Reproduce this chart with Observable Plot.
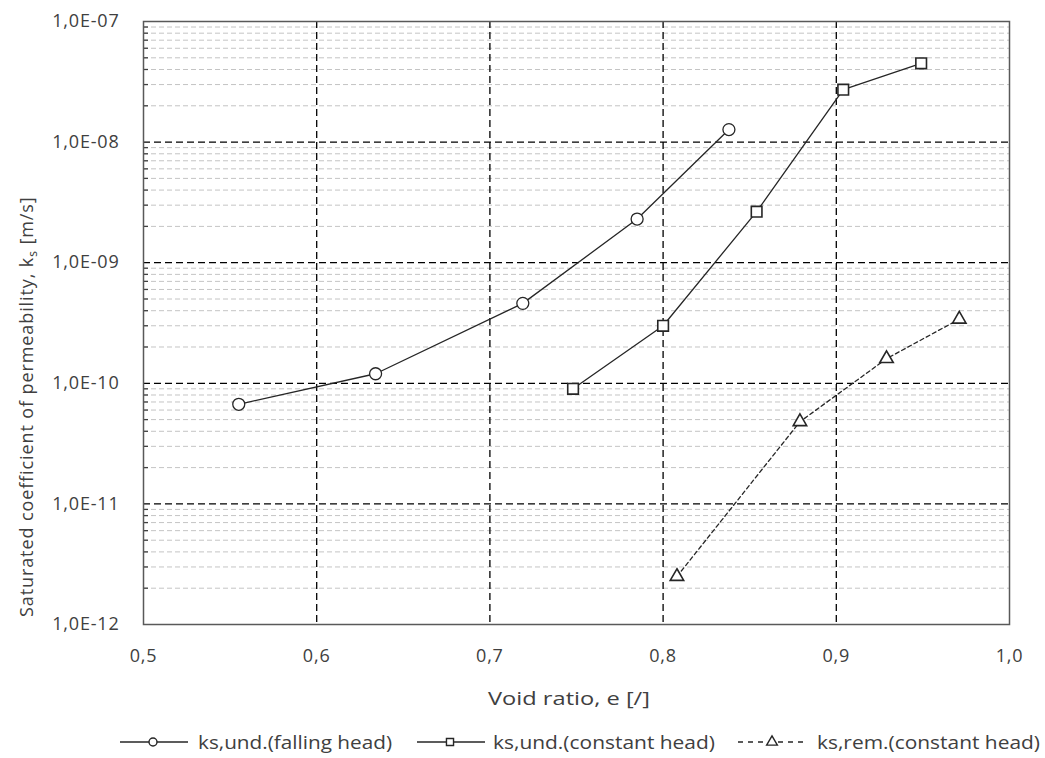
<!DOCTYPE html>
<html><head><meta charset="utf-8">
<script src="https://cdn.jsdelivr.net/npm/d3@7"></script>
<script src="https://cdn.jsdelivr.net/npm/@observablehq/plot@0.6"></script>
<style>
body{margin:0;background:#fff;font-family:"Open Sans",Lato,sans-serif;color:#404040;}
#wrap{width:1045px;height:758px;}
#chart svg, #legend svg{display:block;}
</style></head><body>
<div id="wrap"><div id="chart"></div><div id="legend"></div></div>
<script>
// Data
const voidFalling = [0.555, 0.634, 0.719, 0.785, 0.838];
const ksFalling   = [6.7e-11, 1.2e-10, 4.6e-10, 2.3e-9, 1.27e-8];
const voidConst   = [0.748, 0.800, 0.854, 0.904, 0.949];
const ksConst     = [9.0e-11, 3.0e-10, 2.65e-9, 2.72e-8, 4.5e-8];
const voidRem     = [0.808, 0.879, 0.929, 0.971];
const ksRem       = [2.5e-12, 4.8e-11, 1.6e-10, 3.4e-10];
const xTicks = [0.5, 0.6, 0.7, 0.8, 0.9, 1.0];
const yTicks = [1e-12, 1e-11, 1e-10, 1e-9, 1e-8, 1e-7];
const seriesNames = ["ks,und.(falling head)", "ks,und.(constant head)", "ks,rem.(constant head)"];

const minor = [];
for (let k = -12; k < -7; k++) for (let m = 2; m <= 9; m++) minor.push(+(m + "e" + k));

const falling = voidFalling.map((e, i) => ({e, k: ksFalling[i]}));
const constant = voidConst.map((e, i) => ({e, k: ksConst[i]}));
const remold = voidRem.map((e, i) => ({e, k: ksRem[i]}));

const yFmt = d => "1,0E-" + String(Math.round(-Math.log10(d))).padStart(2, "0");
const xFmt = d => d.toFixed(1).replace(".", ",");
const ink = "#262626";
const font = "'Open Sans', Lato, sans-serif";

const chart = Plot.plot({
  width: 1045, height: 725,
  marginTop: 21, marginBottom: 101, marginLeft: 143, marginRight: 36,
  style: {fontFamily: font, fontSize: "18px", color: "#404040", background: "#fff", letterSpacing: "0.8px"},
  x: {domain: [0.5, 1.0], label: null},
  y: {type: "log", domain: [1e-12, 1e-7], label: null},
  marks: [
    Plot.ruleY(minor, {stroke: "#c4c4c4", strokeWidth: 1, strokeDasharray: "5,3"}),
    Plot.ruleY(yTicks.slice(1, -1), {stroke: "#000", strokeWidth: 1.3, strokeDasharray: "7,4"}),
    Plot.ruleX(xTicks.slice(1, -1), {stroke: "#000", strokeWidth: 1.3, strokeDasharray: "7,4"}),
    Plot.axisY({ticks: minor, tickSize: 5, dx: 5, tickFormat: () => "", stroke: "#404040", strokeWidth: 1.3, label: null}),
    Plot.axisY({ticks: yTicks, tickSize: 0, tickPadding: 24, tickFormat: yFmt, label: null}),
    Plot.axisX({ticks: xTicks, tickSize: 0, tickPadding: 25, tickFormat: xFmt, label: null}),
    Plot.line(falling, {x: "e", y: "k", stroke: ink, strokeWidth: 1.3}),
    Plot.line(constant, {x: "e", y: "k", stroke: ink, strokeWidth: 1.3}),
    Plot.line(remold, {x: "e", y: "k", stroke: ink, strokeWidth: 1.3, strokeDasharray: "4,3"}),
    Plot.dot(falling, {x: "e", y: "k", symbol: "circle", r: 6, fill: "#fff", stroke: ink, strokeWidth: 1.3}),
    Plot.dot(constant, {x: "e", y: "k", symbol: "square", r: 6, fill: "#fff", stroke: ink, strokeWidth: 1.6}),
    Plot.dot(remold, {x: "e", y: "k", symbol: "triangle", r: 5, fill: "#fff", stroke: ink, strokeWidth: 1.6}),
    Plot.frame({stroke: "#595959", strokeWidth: 1.5})
  ]
});
document.getElementById("chart").appendChild(chart);

const svg = d3.select(chart);
svg.append("text")
  .attr("x", 488).attr("y", 705).attr("text-anchor", "start")
  .attr("textLength", 162).attr("lengthAdjust", "spacingAndGlyphs")
  .attr("font-size", 18).attr("fill", "#404040").style("letter-spacing", "0px")
  .text("Void ratio, e [/]");
const yt = svg.append("text")
  .attr("transform", "translate(33,617) rotate(-90)").attr("text-anchor", "start")
  .attr("font-size", 18).attr("fill", "#404040").style("letter-spacing", "0.9px");
yt.append("tspan").text("Saturated coefficient of permeability, k");
yt.append("tspan").attr("font-size", 12).attr("dy", 4).text("s");
yt.append("tspan").attr("dy", -4).text(" [m/s]");

// Legend (below the chart SVG)
const legendItems = [
  {name: seriesNames[0], x1: 120, x2: 188, mx: 153, tx: 198, tl: 194, sym: d3.symbolCircle, dash: null},
  {name: seriesNames[1], x1: 417, x2: 485, mx: 450, tx: 493, tl: 222, sym: d3.symbolSquare, dash: null},
  {name: seriesNames[2], x1: 738, x2: 803, mx: 772, tx: 817, tl: 223, sym: d3.symbolTriangle, dash: "5,5"}
];
const lg = d3.select("#legend").append("svg").attr("width", 1045).attr("height", 33)
  .style("font-family", font);
legendItems.forEach(it => {
  lg.append("line").attr("x1", it.x1).attr("x2", it.x2).attr("y1", 17).attr("y2", 17)
    .attr("stroke", ink).attr("stroke-width", 1.5).attr("stroke-dasharray", it.dash);
  lg.append("path").attr("d", d3.symbol(it.sym, 50)()).attr("transform", `translate(${it.mx},17)`)
    .attr("fill", "#fff").attr("stroke", ink).attr("stroke-width", 1.4);
  lg.append("text").attr("x", it.tx).attr("y", 24).attr("textLength", it.tl)
    .attr("lengthAdjust", "spacingAndGlyphs").attr("font-size", 18).attr("fill", "#404040")
    .text(it.name);
});
</script>
</body></html>
